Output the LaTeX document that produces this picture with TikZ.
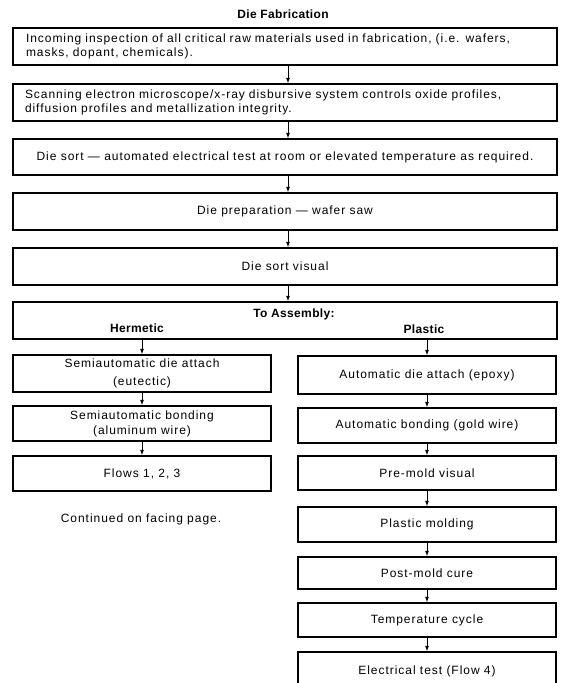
\documentclass[tikz,border=0pt]{standalone}
\usepackage{fontspec}
\setmainfont{Liberation Sans}[LetterSpace=8]
\newfontfamily\lblfont{Liberation Sans}[LetterSpace=3]
\usetikzlibrary{arrows.meta}
\begin{document}
\begin{tikzpicture}[x=1pt,y=-1pt,
  font=\fontsize{12}{14.5}\selectfont,
  mainbox/.style={draw, line width=1.3pt, minimum width=544pt, inner sep=0pt},
  colbox/.style={draw, line width=1.3pt, minimum width=258pt, inner sep=0pt, align=center},
  lbl/.style={inner sep=0pt, font=\fontsize{12}{14}\lblfont\bfseries},
  arr/.style={line width=1pt, -{Latex[length=5.5pt,width=4pt]}}]
\useasboundingbox (0,0) rectangle (561,683);
\clip (0,0) rectangle (561,683);
% title
\node[lbl] (title) at (283,14) {Die Fabrication};
% main column
\node[mainbox, minimum height=37pt, text width=518pt, align=left] (b1) at (285,46.5)
  {\makebox[518pt][s]{Incoming inspection of all critical raw materials used in fabrication, (i.e. wafers,}\\masks, dopant, chemicals).};
\node[mainbox, minimum height=37pt, text width=520pt, align=left] (b2) at (285,102.5)
  {\makebox[520pt][s]{Scanning electron microscope/x-ray disbursive system controls oxide profiles,}\\diffusion profiles and metallization integrity.};
\node[mainbox, minimum height=36pt] (b3) at (285,157)
  {Die sort — automated electrical test at room or elevated temperature as required.};
\node[mainbox, minimum height=37pt] (b4) at (285,211.5) {Die preparation — wafer saw};
\node[mainbox, minimum height=37pt] (b5) at (285,266.5) {Die sort visual};
\node[mainbox, minimum height=37pt] (b6) at (285,320.5) {};
\node[lbl] (asm) at (294,314) {To Assembly:};
\node[lbl] (herm) at (137,328) {Hermetic};
\node[lbl] (plas) at (424,329) {Plastic};
% hermetic column
\node[colbox, minimum height=37pt] (h1) at (142,373.5) {Semiautomatic die attach\\[3.5pt](eutectic)};
\node[colbox, minimum height=35pt] (h2) at (142,423.5) {Semiautomatic bonding\\[0.5pt](aluminum wire)};
\node[colbox, minimum height=35pt] (h3) at (142,473.5) {Flows 1, 2, 3};
\node[inner sep=0pt] (cont) at (141,519) {Continued on facing page.};
% plastic column
\node[colbox, minimum height=38pt] (r1) at (427,375) {Automatic die attach (epoxy)};
\node[colbox, minimum height=35pt] (r2) at (427,425.5) {Automatic bonding (gold wire)};
\node[colbox, minimum height=34pt] (r3) at (427,473) {Pre-mold visual};
\node[colbox, minimum height=35pt] (r4) at (427,524.5) {Plastic molding};
\node[colbox, minimum height=32pt] (r5) at (427,573) {Post-mold cure};
\node[colbox, minimum height=34pt] (r6) at (427,620) {Temperature cycle};
\node[colbox, minimum height=38pt] (r7) at (427,671) {Electrical test (Flow 4)};
% connectors
\coordinate (ax) at (288,0);
\foreach \a/\b in {b1/b2,b2/b3,b3/b4,b4/b5,b5/b6}
  \draw[arr] (\a.south -| ax) -- (\b.north -| ax);
\draw[arr] (b6.south -| h1.north) -- (h1.north);
\draw[arr] (h1) -- (h2);
\draw[arr] (h2) -- (h3);
\draw[arr] (b6.south -| r1.north) -- (r1.north);
\foreach \a/\b in {r1/r2,r2/r3,r3/r4,r4/r5,r5/r6,r6/r7}
  \draw[arr] (\a) -- (\b);
\end{tikzpicture}
\end{document}
